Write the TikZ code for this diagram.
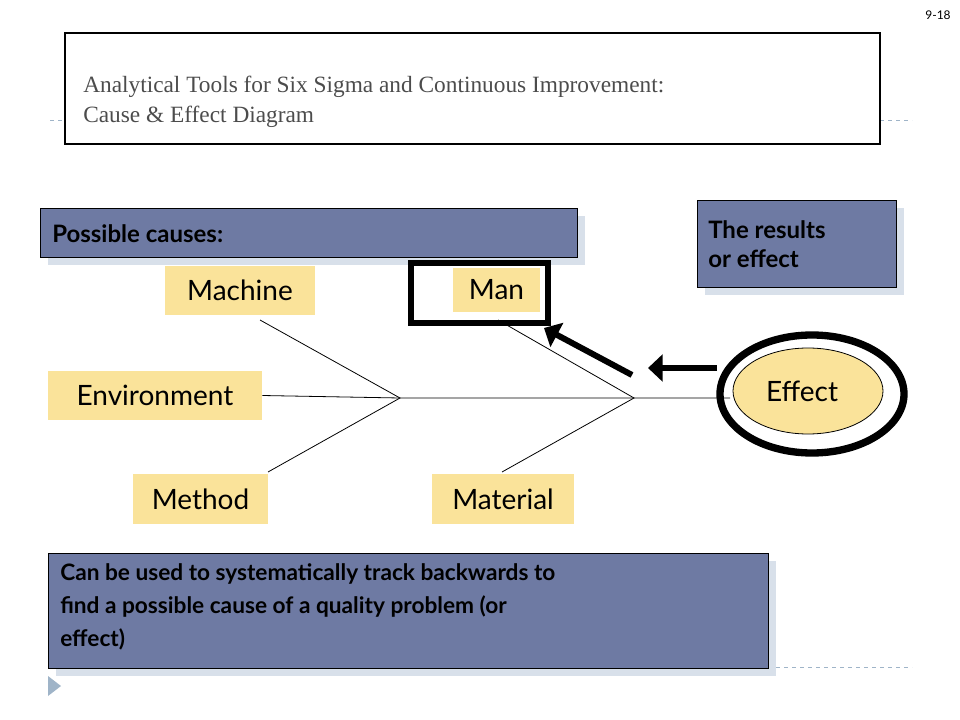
\documentclass[tikz,border=0pt]{standalone}
\usepackage{fontspec}
\setmainfont{Liberation Serif}
\newfontfamily\gill{Lato}
\usetikzlibrary{arrows.meta}
\definecolor{blu}{HTML}{6E7AA3}
\definecolor{shd}{HTML}{D8E0EA}
\definecolor{yel}{HTML}{FAE39A}
\definecolor{dsh}{HTML}{9FB4C8}
\tikzset{
 blubox/.style={draw=black,fill=blu,inner sep=0pt},
 yb/.style={fill=yel,font=\gill\fontsize{21}{24}\selectfont,inner sep=0pt},
 bone/.style={line width=0.6pt},
 fat/.style={line width=4.5pt,-{Triangle[length=11pt,width=20pt]}},
 txt/.style={font=\gill\bfseries\fontsize{18}{22}\selectfont,align=left,anchor=west,inner sep=0pt}
}
\begin{document}
\begin{tikzpicture}[x=0.75pt,y=-0.75pt]
\useasboundingbox (0,0) rectangle (960,720);
\node[font=\gill\fontsize{9}{10}\selectfont] (pg) at (938,15) {9-18};
\draw[dsh,dashed] (50,120)--(65,120) (880,120)--(912,120) (768,667)--(912,667);
\draw[line width=0.8pt] (65,33) rectangle (880,144);
\node[anchor=north west,align=left,text=black!70,font=\fontsize{17.5}{22}\selectfont,inner sep=0pt] (title) at (83,76) {Analytical Tools for Six Sigma and Continuous Improvement:\\Cause \& Effect Diagram};
% possible causes
\fill[shd] (48,216) rectangle (585,265);
\draw[blubox] (40,208) rectangle (577,257);
\node[txt] (pc) at (52,234) {Possible causes:};
\fill[shd] (705,208) rectangle (904,295);
\draw[blubox] (697,200) rectangle (896,287);
\node[txt] (res) at (708,244) {The results\\or effect};
% yellow boxes
\node[yb,minimum width=150*0.75pt,minimum height=49*0.75pt] (mach) at (240,290.5) {Machine};
\node[yb,minimum width=87*0.75pt,minimum height=44*0.75pt] (man) at (496.5,290) {Man};
\draw[line width=4.5pt] (411,263) rectangle (548,323);
\node[yb,minimum width=214*0.75pt,minimum height=49*0.75pt] (env) at (155,395.5) {Environment};
\node[yb,minimum width=135*0.75pt,minimum height=50*0.75pt] (meth) at (200.5,499) {Method};
\node[yb,minimum width=142*0.75pt,minimum height=50*0.75pt] (mat) at (503,499) {Material};
% bones
\coordinate (j1) at (400,398);
\coordinate (j2) at (634,398);
\coordinate (m1) at (260,320);
\coordinate (m2) at (268,472);
\coordinate (m3) at (498,320);
\coordinate (m4) at (502,472);
\draw[bone] (env.east) -- (j1) -- (j2) -- (730,398);
\draw[bone] (m1)--(j1)--(m2);
\draw[bone] (m3)--(j2)--(m4);
% effect
\draw[line width=0.6pt,fill=yel] (808,391) ellipse [x radius=75,y radius=43];
\node[font=\gill\fontsize{21}{24}\selectfont] (eff) at (802,391) {Effect};
\draw[line width=5.5pt] (812,394) ellipse [x radius=92,y radius=59];
\coordinate (a1s) at (717,368);
\coordinate (a1e) at (648,368);
\coordinate (a2s) at (632,375);
\coordinate (a2e) at (544,328);
\draw[fat] (a1s)--(a1e);
\draw[fat] (a2s)--(a2e);
% bottom box
\fill[shd] (56,561) rectangle (776,676);
\draw[blubox] (48,553) rectangle (768,668);
\node[txt,font=\gill\bfseries\fontsize{17}{25}\selectfont,anchor=north west] (bt) at (60,563) {Can be used to systematically track backwards to\\find a possible cause of a quality problem (or\\effect)};
\fill[dsh] (48,676) -- (61,686) -- (48,696) -- cycle;
\end{tikzpicture}
\end{document}
